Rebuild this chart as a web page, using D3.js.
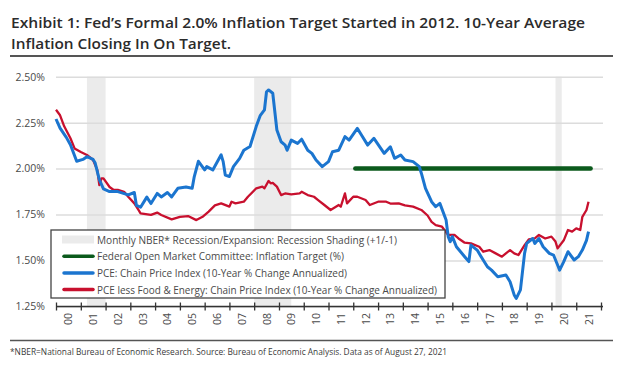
<!DOCTYPE html>
<html><head><meta charset="utf-8">
<script src="https://cdn.jsdelivr.net/npm/d3@7"></script>
<style>
html,body{margin:0;padding:0;background:#fff;}
svg{display:block;}
</style></head>
<body><svg id="chart" width="624" height="369"></svg>
<script>
const titleLines = ["Exhibit 1: Fed’s Formal 2.0% Inflation Target Started in 2012. 10-Year Average", "Inflation Closing In On Target."];
const footnote = "*NBER=National Bureau of Economic Research.  Source: Bureau of Economic Analysis. Data as of August 27, 2021";
const yTicks = [1.25, 1.50, 1.75, 2.00, 2.25, 2.50];
const xTickLabels = ["00","01","02","03","04","05","06","07","08","09","10","11","12","13","14","15","16","17","18","19","20","21"];
const recessionStarts = ["2001-04","2008-01","2020-03"];
const recessionEnds = ["2002-01","2009-07","2020-06"];
const targetDates = ["2012-02","2021-08"];
const targetValues = [2.0, 2.0];
const pceDates = ["2000-01","2000-03","2000-06","2000-08","2000-11","2001-02","2001-04","2001-07","2001-08","2001-10","2001-12","2002-03","2002-07","2002-12","2003-03","2003-04","2003-06","2003-09","2003-11","2004-02","2004-04","2004-07","2004-09","2004-12","2005-04","2005-07","2005-08","2005-10","2006-01","2006-02","2006-05","2006-09","2006-10","2006-11","2007-01","2007-03","2007-06","2007-08","2007-11","2008-02","2008-04","2008-06","2008-07","2008-08","2008-10","2008-12","2009-02","2009-04","2009-05","2009-07","2009-10","2009-12","2010-03","2010-05","2010-07","2010-10","2011-01","2011-03","2011-06","2011-09","2011-11","2012-03","2012-05","2012-08","2012-11","2013-04","2013-07","2013-09","2013-12","2014-02","2014-06","2014-09","2014-10","2014-12","2015-03","2015-05","2015-07","2015-10","2015-11","2015-12","2016-01","2016-03","2016-07","2016-09","2016-10","2017-01","2017-03","2017-06","2017-08","2017-11","2018-03","2018-05","2018-07","2018-08","2018-10","2018-12","2019-01","2019-04","2019-05","2019-07","2019-09","2019-12","2020-02","2020-04","2020-05","2020-07","2020-09","2020-12","2021-02","2021-04","2021-06","2021-07"];
const pceValues = [2.27,2.22,2.17,2.13,2.04,2.05,2.065,2.05,2.03,1.94,1.89,1.875,1.875,1.857,1.87,1.80,1.79,1.845,1.81,1.865,1.846,1.87,1.846,1.893,1.90,1.893,1.957,2.04,1.993,2.011,1.993,2.075,2.038,1.965,1.957,2.011,2.056,2.10,2.12,2.23,2.29,2.32,2.418,2.428,2.41,2.21,2.146,2.128,2.10,2.155,2.137,2.16,2.10,2.083,2.047,2.011,2.038,2.092,2.10,2.174,2.155,2.219,2.183,2.128,2.165,2.083,2.119,2.056,2.074,2.047,2.038,2.011,1.975,1.893,1.82,1.793,1.811,1.72,1.63,1.603,1.63,1.575,1.521,1.494,1.584,1.557,1.521,1.466,1.448,1.412,1.421,1.385,1.313,1.294,1.34,1.539,1.593,1.62,1.593,1.62,1.575,1.539,1.53,1.476,1.448,1.494,1.548,1.503,1.521,1.557,1.61,1.657];
const coreDates = ["2000-01","2000-03","2000-05","2000-08","2000-10","2001-01","2001-04","2001-07","2001-08","2001-09","2001-10","2001-11","2001-12","2002-03","2002-05","2002-07","2002-10","2002-12","2003-03","2003-05","2003-06","2003-11","2004-02","2004-04","2004-09","2005-01","2005-05","2005-09","2005-12","2006-03","2006-06","2006-09","2007-01","2007-02","2007-04","2007-08","2007-10","2008-02","2008-05","2008-06","2008-08","2008-09","2008-10","2008-12","2009-02","2009-04","2009-07","2009-11","2009-12","2010-03","2010-06","2010-08","2010-11","2011-02","2011-06","2011-07","2011-09","2011-10","2012-01","2012-03","2012-07","2012-09","2013-01","2013-05","2013-07","2013-11","2014-02","2014-06","2014-10","2015-01","2015-03","2015-05","2015-08","2015-11","2016-02","2016-04","2016-07","2016-10","2017-02","2017-04","2017-07","2017-10","2018-01","2018-03","2018-05","2018-07","2018-09","2018-12","2019-02","2019-05","2019-07","2019-10","2020-01","2020-03","2020-04","2020-07","2020-09","2020-11","2021-01","2021-03","2021-04","2021-06","2021-07"];
const coreValues = [2.32,2.29,2.23,2.165,2.11,2.09,2.074,2.047,2.02,1.993,1.91,1.947,1.947,1.90,1.884,1.884,1.874,1.847,1.811,1.775,1.757,1.748,1.761,1.748,1.724,1.738,1.742,1.72,1.738,1.766,1.80,1.811,1.793,1.82,1.811,1.82,1.847,1.893,1.902,1.893,1.933,1.92,1.922,1.902,1.856,1.865,1.86,1.865,1.874,1.856,1.847,1.829,1.802,1.775,1.802,1.793,1.865,1.811,1.847,1.847,1.829,1.802,1.82,1.82,1.81,1.811,1.80,1.793,1.775,1.745,1.71,1.693,1.684,1.639,1.639,1.62,1.597,1.593,1.575,1.548,1.557,1.539,1.521,1.539,1.557,1.539,1.53,1.584,1.615,1.62,1.639,1.62,1.63,1.603,1.566,1.61,1.666,1.657,1.675,1.666,1.738,1.775,1.82];
const legendLabels = ["Monthly NBER* Recession/Expansion: Recession Shading (+1/-1)","Federal Open Market Committee: Inflation Target (%)","PCE: Chain Price Index (10-Year % Change Annualized)","PCE less Food & Energy: Chain Price Index (10-Year % Change Annualized)"];
const legendWidths = [300, 247, 250, 340];

const colors = {pce:"#1b75cf", core:"#c8102e", target:"#0b5a1c", shade:"#ebebeb", grid:"#dcdcdc", text:"#4a4a4a"};
const parse = d3.timeParse("%Y-%m");
const svg = d3.select("#chart");
const font = "'Open Sans', sans-serif";

const x = d3.scaleTime().domain([parse("2000-01"), parse("2022-01")]).range([56, 601]);
const y = d3.scaleLinear().domain([1.25, 2.5]).range([306.5, 76.7]);

// title
titleLines.forEach((t,i)=>{
  svg.append("text").attr("x",11).attr("y", i===0 ? 28 : 49)
    .attr("font-family","'Open Sans', sans-serif").attr("font-weight",600)
    .attr("font-size",14.5).attr("fill","#2b2b2b")
    .attr("textLength", i===0 ? 574 : 220).attr("lengthAdjust","spacingAndGlyphs")
    .text(t);
});
svg.append("line").attr("x1",10).attr("x2",613).attr("y1",56).attr("y2",56).attr("stroke","#555").attr("stroke-width",2);

// recession shading
recessionStarts.forEach((s,i)=>{
  svg.append("rect").attr("x", x(parse(s))).attr("y", y(2.5))
    .attr("width", x(parse(recessionEnds[i])) - x(parse(s)))
    .attr("height", y(1.25) - y(2.5)).attr("fill", colors.shade);
});

// gridlines
const yAxis = d3.axisLeft(y).tickValues(yTicks).tickSize(-547).tickFormat(d=>d3.format(".2f")(d)+"%");
const gy = svg.append("g").attr("transform","translate(56,0)").call(yAxis);
gy.select(".domain").remove();
gy.selectAll(".tick line").attr("stroke", colors.grid).attr("stroke-width",1.5);
gy.selectAll(".tick text").attr("x",-11).attr("font-family",font).attr("font-size",10.5).attr("fill",colors.text);

// lines
const line = (dates, vals) => d3.line().x((d,i)=>x(parse(dates[i]))).y(d=>y(d))(vals);
svg.append("path").attr("d", line(targetDates, targetValues)).attr("fill","none")
  .attr("stroke", colors.target).attr("stroke-width",4.5).attr("stroke-linecap","round");
svg.append("path").attr("d", line(coreDates, coreValues)).attr("fill","none")
  .attr("stroke", colors.core).attr("stroke-width",2.3).attr("stroke-linejoin","round");
svg.append("path").attr("d", line(pceDates, pceValues)).attr("fill","none")
  .attr("stroke", colors.pce).attr("stroke-width",3).attr("stroke-linejoin","round");

// x axis
const yearTicks = d3.range(0, 23).map(i => new Date(2000 + i, 0, 1));
const xAxis = d3.axisBottom(x).tickValues(yearTicks).tickSize(4).tickFormat("");
const gx = svg.append("g").attr("transform",`translate(0,${y(1.25)})`).call(xAxis);
gx.select(".domain").attr("stroke","#333").attr("stroke-width",1.3).attr("d", `M${x(parse("2000-01"))},0H${x(parse("2022-01"))+2}`);
gx.selectAll(".tick line").attr("stroke","#333").attr("stroke-width",1.3).attr("y1",-4).attr("y2",4);
xTickLabels.forEach((lab,i)=>{
  const cx = (x(new Date(2000+i,0,1)) + x(new Date(2001+i,0,1)))/2;
  svg.append("text").attr("transform",`translate(${cx+4},313) rotate(-90)`)
    .attr("text-anchor","end").attr("font-family",font).attr("font-size",10.5).attr("fill",colors.text).text(lab);
});

// legend
const lg = svg.append("g");
lg.append("rect").attr("x",51).attr("y",230).attr("width",394).attr("height",68)
  .attr("fill","#fff").attr("stroke","#444").attr("stroke-width",1.3);
const swatchColors = [colors.shade, colors.target, colors.pce, colors.core];
legendLabels.forEach((lab,i)=>{
  const yy = 239.5 + i*16.7;
  if (i===0) {
    lg.append("rect").attr("x",62).attr("y",yy-4).attr("width",32).attr("height",8).attr("fill",colors.shade);
  } else {
    lg.append("line").attr("x1",64).attr("x2",93).attr("y1",yy).attr("y2",yy)
      .attr("stroke",swatchColors[i]).attr("stroke-width",3.5).attr("stroke-linecap","round");
  }
  lg.append("text").attr("x",97).attr("y",yy+4).attr("font-family",font).attr("font-size",11)
    .attr("fill",colors.text).attr("textLength",legendWidths[i]).attr("lengthAdjust","spacingAndGlyphs").text(lab);
});

// footer
svg.append("line").attr("x1",10).attr("x2",613).attr("y1",340.5).attr("y2",340.5).attr("stroke","#555").attr("stroke-width",1.5);
svg.append("text").attr("x",10).attr("y",355).attr("font-family",font).attr("font-size",9.5)
  .attr("fill","#3a3a3a").attr("textLength",437).attr("lengthAdjust","spacingAndGlyphs").text(footnote);
</script></body></html>
